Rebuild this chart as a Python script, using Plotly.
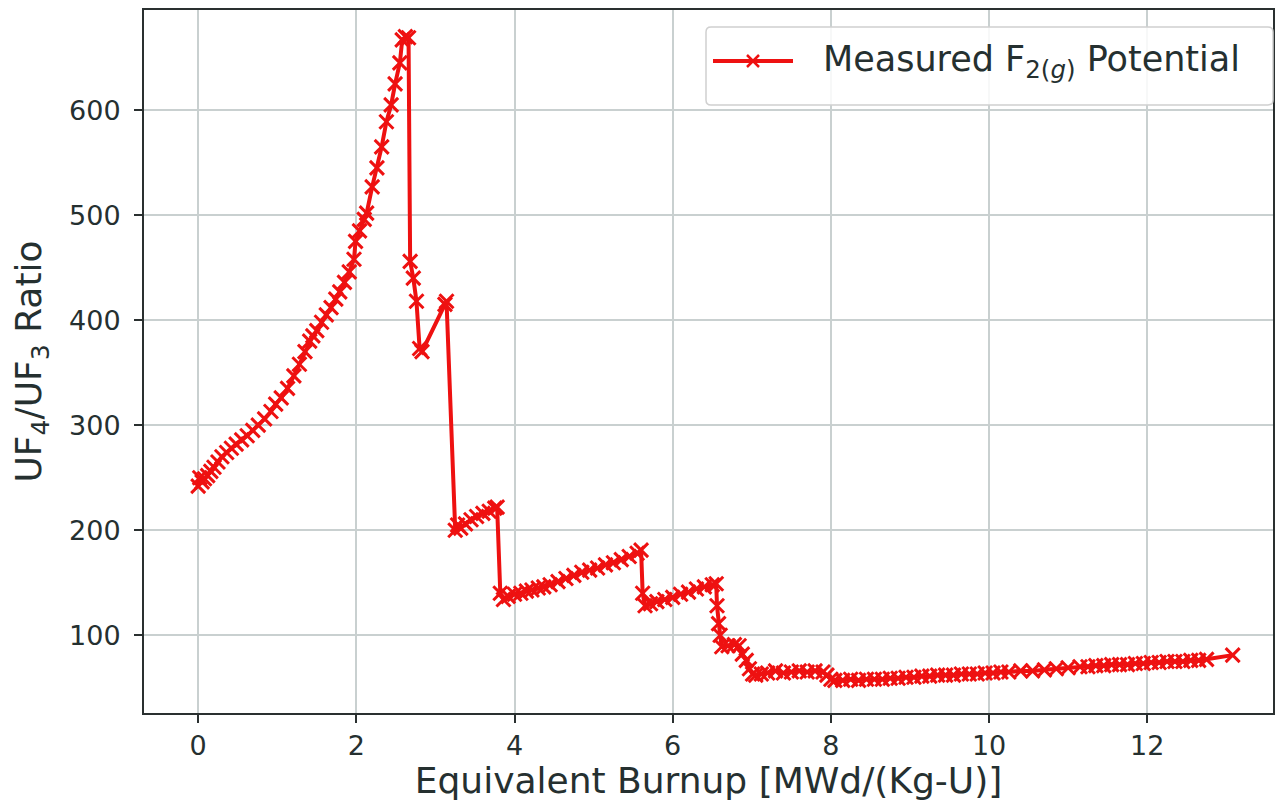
import plotly.graph_objects as go

# equivalent burnup [MWd/(Kg-U)] and UF4/UF3 ratio
burnup = [
    0.00, 0.02, 0.05, 0.08, 0.12, 0.16, 0.20, 0.25, 0.30, 0.36, 0.42, 0.48, 0.55, 0.62, 0.69,
    0.76, 0.84, 0.92, 0.98, 1.05, 1.13, 1.21, 1.28, 1.35, 1.41, 1.45, 1.50, 1.56, 1.62, 1.68,
    1.74, 1.79, 1.85, 1.91, 1.97, 1.99, 2.04, 2.10, 2.13, 2.20, 2.26, 2.32, 2.38, 2.44, 2.49,
    2.55, 2.58, 2.62, 2.66,
    2.68, 2.72, 2.76, 2.80, 2.83, 3.12, 3.14,
    3.25, 3.28, 3.32, 3.38, 3.45, 3.52, 3.60, 3.68, 3.75, 3.78,
    3.82, 3.86, 3.92, 4.00, 4.08, 4.15, 4.22, 4.30, 4.37, 4.45, 4.55, 4.65, 4.75, 4.85, 4.95,
    5.05, 5.15, 5.25, 5.35, 5.45, 5.55, 5.60,
    5.62, 5.65, 5.72, 5.80, 5.90, 6.00, 6.10, 6.20, 6.30, 6.40, 6.50, 6.55,
    6.56, 6.58, 6.60, 6.62, 6.70, 6.78, 6.84, 6.88, 6.93, 6.97, 7.01, 7.05, 7.12, 7.20, 7.30,
    7.40, 7.50, 7.60, 7.70, 7.80, 7.90, 7.95, 8.00, 8.05, 8.15, 8.25, 8.35, 8.45, 8.55, 8.65,
    8.75, 8.85, 8.95, 9.05, 9.15, 9.25, 9.35, 9.45, 9.55, 9.65, 9.75, 9.85, 9.95, 10.05, 10.15,
    10.25, 10.40, 10.55, 10.70, 10.85, 11.00, 11.15, 11.25, 11.35, 11.45, 11.55, 11.65, 11.75,
    11.85, 11.95, 12.05, 12.15, 12.25, 12.35, 12.45, 12.55, 12.65, 12.75, 13.08,
]
ratio = [
    242, 250, 246, 249, 252, 256, 260, 265, 270, 274, 278, 282, 286, 290, 295,
    300, 306, 313, 320, 326, 335, 347, 358, 370, 380, 385, 390, 398, 405, 412,
    420, 427, 436, 446, 458, 475, 485, 496, 502, 527, 545, 565, 589, 605, 625,
    645, 667, 670, 669,
    456, 440, 418, 373, 370, 415, 418,
    200, 205, 202, 206, 210, 213, 216, 218, 221, 222,
    140, 134, 137, 139, 140, 142, 143, 145, 146, 148, 151, 154, 157, 160, 162,
    164, 167, 169, 172, 175, 178, 181,
    140, 128, 130, 132, 134, 136, 139, 141, 144, 146, 148, 149,
    128, 111, 100, 89, 90, 91, 90, 82, 76, 68, 63, 62, 63, 64, 66,
    64, 65, 66, 65, 66, 65, 62, 58, 57, 57, 58, 57, 58, 58, 58,
    59, 59, 60, 60, 61, 61, 62, 62, 62, 63, 63, 63, 64, 64, 65,
    65, 66, 66, 67, 68, 69, 70, 70, 71, 71, 72, 72, 72,
    73, 73, 74, 74, 75, 75, 75, 76, 76, 77, 81,
]

x_ticks = [0, 2, 4, 6, 8, 10, 12]
y_ticks = [100, 200, 300, 400, 500, 600]
series_name = 'Measured F<sub>2(<i>g</i>)</sub> Potential'

RED = '#ee1111'
TEXT = '#253030'
GRID = '#c9d0d0'
FONT = 'DejaVu Sans'

# figure is drawn inside the page body (8px default margin), so size it to fit
W, H = 1267, 793
ML, MR, MT, MB = 136, 2, 2, 88
PW, PH = W - ML - MR, H - MT - MB


def px_x(px):
    # page pixel -> paper x
    return (px - 8 - ML) / PW


def px_y(py):
    # page pixel -> paper y
    return 1 - (py - 8 - MT) / PH


fig = go.Figure()

fig.add_trace(go.Scatter(
    x=burnup,
    y=ratio,
    mode='lines+markers',
    name=series_name,
    showlegend=False,
    line=dict(color=RED, width=4),
    marker=dict(symbol='x-thin', size=14, color=RED, line=dict(color=RED, width=3))))

axis_common = dict(
    automargin=False,
    showline=True,
    linecolor='#2a3030',
    linewidth=2,
    mirror=True,
    ticks='outside',
    ticklen=8,
    tickwidth=2,
    tickcolor='#2a3030',
    showgrid=True,
    gridcolor=GRID,
    gridwidth=2,
    zeroline=False,
    tickfont=dict(family=FONT, size=27, color=TEXT),
)

fig.update_xaxes(
    range=[-0.685, 13.59],
    tickvals=x_ticks,
    title=dict(text='Equivalent Burnup [MWd/(Kg-U)]', font=dict(family=FONT, size=36, color=TEXT),
               standoff=4),
    **axis_common)
fig.update_yaxes(
    range=[25.9, 695.4],
    tickvals=y_ticks,
    ticklabelstandoff=8,
    title=dict(text='UF<sub>4</sub>/UF<sub>3</sub> Ratio', font=dict(family=FONT, size=36, color=TEXT),
               standoff=18),
    **axis_common)

# matplotlib-style legend box drawn by hand
bx0, bx1 = px_x(706), px_x(1273)
by0, by1 = px_y(105), px_y(27)
rx, ry = 5 / PW, 5 / PH
box_path = (f'M{bx0 + rx},{by0} L{bx1 - rx},{by0} Q{bx1},{by0} {bx1},{by0 + ry} '
            f'L{bx1},{by1 - ry} Q{bx1},{by1} {bx1 - rx},{by1} '
            f'L{bx0 + rx},{by1} Q{bx0},{by1} {bx0},{by1 - ry} '
            f'L{bx0},{by0 + ry} Q{bx0},{by0} {bx0 + rx},{by0} Z')
ly = px_y(61)
mx = px_x(753)
dx, dy = 6 / PW, 6 / PH

fig.update_layout(
    width=W,
    height=H,
    margin=dict(l=ML, r=MR, t=MT, b=MB),
    paper_bgcolor='white',
    plot_bgcolor='white',
    showlegend=False,
    shapes=[
        dict(type='path', path=box_path, xref='paper', yref='paper', layer='above',
             fillcolor='rgba(255,255,255,0.85)', line=dict(color='#d0d0d0', width=1.5)),
        dict(type='line', xref='paper', yref='paper', layer='above',
             x0=px_x(713), x1=px_x(793), y0=ly, y1=ly, line=dict(color=RED, width=4)),
        dict(type='line', xref='paper', yref='paper', layer='above',
             x0=mx - dx, x1=mx + dx, y0=ly - dy, y1=ly + dy, line=dict(color=RED, width=2.5)),
        dict(type='line', xref='paper', yref='paper', layer='above',
             x0=mx - dx, x1=mx + dx, y0=ly + dy, y1=ly - dy, line=dict(color=RED, width=2.5)),
    ],
    annotations=[
        dict(text=series_name, xref='paper', yref='paper', x=px_x(821), y=ly,
             xanchor='left', yanchor='middle', showarrow=False,
             font=dict(family=FONT, size=35, color=TEXT)),
    ],
)

fig.write_html("out.html")
